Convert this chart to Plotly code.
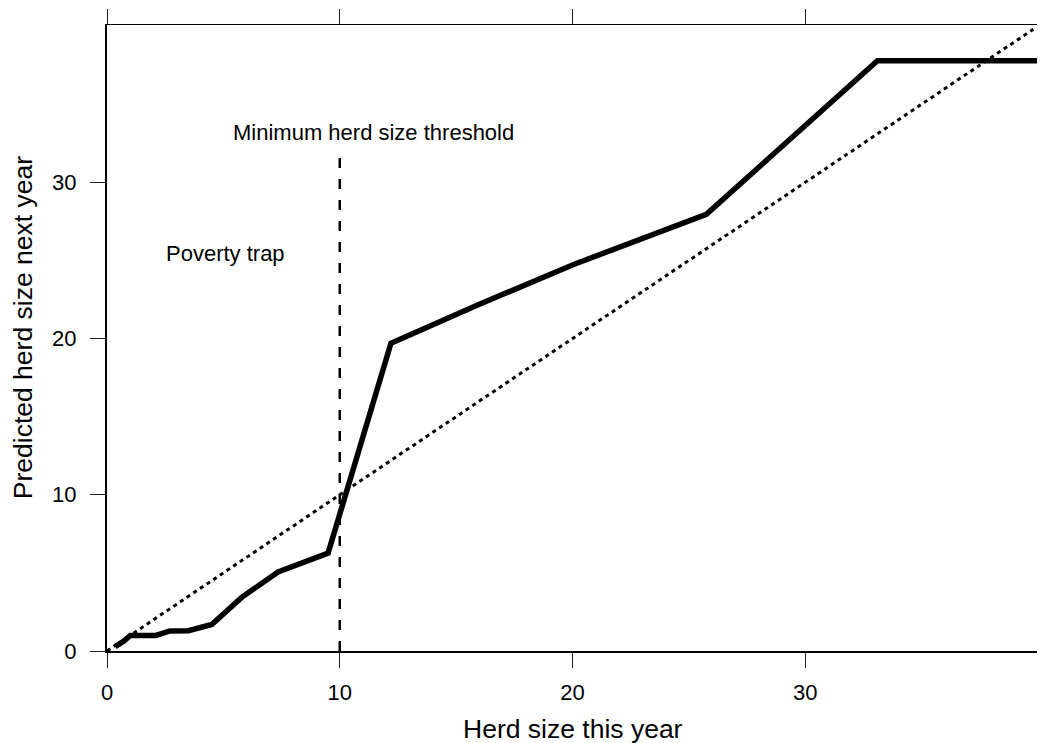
import plotly.graph_objects as go

# Data
herd_now = [0.35, 0.7, 1.0, 2.1, 2.7, 3.5, 4.5, 5.8, 7.35, 9.5, 12.2, 16.0, 20.1, 25.75, 33.1, 40.0]
herd_next = [0.28, 0.6, 1.0, 1.0, 1.28, 1.3, 1.7, 3.45, 5.06, 6.27, 19.7, 22.2, 24.77, 27.95, 37.78, 37.78]

diag_x = [0, 39.8]
diag_y = [0, 39.8]

threshold_x = [10, 10]
threshold_y = [0, 32]

x_ticks = [0, 10, 20, 30]
y_ticks = [0, 10, 20, 30]

FONT = "Liberation Sans, Arial, Helvetica, sans-serif"

fig = go.Figure()

fig.add_trace(go.Scatter(x=diag_x, y=diag_y, mode="lines",
                         line=dict(color="black", width=3, dash="4px,4px"),
                         hoverinfo="skip", showlegend=False))
fig.add_trace(go.Scatter(x=threshold_x, y=threshold_y, mode="lines",
                         line=dict(color="black", width=2.5, dash="10px,11px"),
                         hoverinfo="skip", showlegend=False))
fig.add_trace(go.Scatter(x=herd_now, y=herd_next, mode="lines",
                         line=dict(color="black", width=5.5),
                         hoverinfo="skip", showlegend=False))
# invisible trace for the mirrored top/right axes
fig.add_trace(go.Scatter(x=[0], y=[0], xaxis="x2", yaxis="y2", mode="markers",
                         marker=dict(opacity=0), hoverinfo="skip", showlegend=False))

XR = [0, 40]
YR = [0, 40.07]

tick_common = dict(ticks="outside", ticklen=15, tickwidth=1.3, tickcolor="#222",
                   showgrid=False, zeroline=False, automargin=False)

fig.update_layout(
    width=1045, height=743,
    autosize=False,
    margin=dict(l=99, r=15, t=17, b=100, autoexpand=False),
    paper_bgcolor="white", plot_bgcolor="white",
    font=dict(family=FONT, color="black"),
    xaxis=dict(range=XR, tickvals=x_ticks, ticktext=[str(v) for v in x_ticks],
               showline=True, linewidth=2.2, linecolor="black",
               tickfont=dict(size=22, family=FONT), ticklabelstandoff=5,
               **tick_common),
    yaxis=dict(range=YR, tickvals=y_ticks, ticktext=[str(v) for v in y_ticks],
               showline=True, linewidth=2.2, linecolor="black",
               tickfont=dict(size=22, family=FONT), ticklabelstandoff=9,
               **tick_common),
    xaxis2=dict(range=XR, overlaying="x", side="top", anchor="y2",
                tickvals=x_ticks, showticklabels=False,
                showline=True, linewidth=1.3, linecolor="black", **tick_common),
    yaxis2=dict(range=YR, overlaying="y", side="right", anchor="x2",
                tickvals=y_ticks, showticklabels=False,
                showline=True, linewidth=1.3, linecolor="black", **tick_common),
    annotations=[
        dict(text="Minimum herd size threshold", x=11.45, y=33.16, xref="x", yref="y",
             showarrow=False, font=dict(size=22, family=FONT, color="black"),
             xanchor="center", yanchor="middle"),
        dict(text="Poverty trap", x=5.09, y=25.46, xref="x", yref="y",
             showarrow=False, font=dict(size=22, family=FONT, color="black"),
             xanchor="center", yanchor="middle"),
        dict(text="Herd size this year", x=0.5, y=-0.1247, xref="paper", yref="paper",
             showarrow=False, font=dict(size=26.5, family=FONT, color="black"),
             xanchor="center", yanchor="middle"),
        dict(text="Predicted herd size next year", x=-0.0902, y=0.5157,
             xref="paper", yref="paper", textangle=-90,
             showarrow=False, font=dict(size=26.5, family=FONT, color="black"),
             xanchor="center", yanchor="middle"),
    ],
)

fig.write_html("out.html")
